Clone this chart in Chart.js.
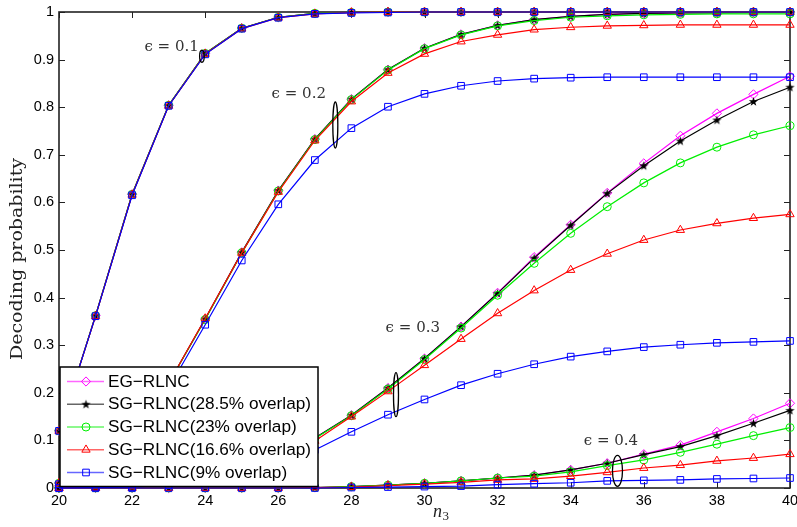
<!DOCTYPE html>
<html>
<head>
<meta charset="utf-8">
<script src="https://cdn.jsdelivr.net/npm/chart.js@4.4.1/dist/chart.umd.min.js"></script>
<style>
  html, body { margin: 0; padding: 0; background: #fff; }
  canvas { display: block; }
</style>
</head>
<body>
<canvas id="chart" width="797" height="527"></canvas>
<script>
// x values (n3)
const n3 = [20, 21, 22, 23, 24, 25, 26, 27, 28, 29, 30, 31, 32, 33, 34, 35, 36, 37, 38, 39, 40];

// epsilon = 0.1
const eg01    = [0.12, 0.362, 0.617, 0.804, 0.913, 0.966, 0.989, 0.997, 0.999, 1, 1, 1, 1, 1, 1, 1, 1, 1, 1, 1, 1];
const sg285_01 = [0.12, 0.362, 0.617, 0.804, 0.913, 0.966, 0.989, 0.997, 0.999, 1, 1, 1, 1, 1, 1, 1, 1, 1, 1, 1, 1];
const sg23_01  = [0.12, 0.362, 0.617, 0.804, 0.913, 0.966, 0.989, 0.997, 0.999, 1, 1, 1, 1, 1, 1, 1, 1, 1, 1, 1, 1];
const sg166_01 = [0.12, 0.361, 0.616, 0.803, 0.912, 0.965, 0.988, 0.996, 0.999, 1, 1, 1, 1, 1, 1, 1, 1, 1, 1, 1, 1];
const sg9_01   = [0.12, 0.361, 0.615, 0.803, 0.911, 0.965, 0.988, 0.996, 0.998, 0.999, 1, 1, 1, 1, 1, 1, 1, 1, 1, 1, 1];

// epsilon = 0.2
const eg02    = [0.01, 0.04, 0.11, 0.22, 0.355, 0.495, 0.625, 0.733, 0.817, 0.879, 0.924, 0.953, 0.972, 0.984, 0.991, 0.995, 0.997, 0.998, 0.999, 0.999, 0.999];
const sg285_02 = [0.01, 0.04, 0.11, 0.22, 0.355, 0.495, 0.625, 0.733, 0.817, 0.879, 0.924, 0.953, 0.972, 0.984, 0.991, 0.995, 0.997, 0.998, 0.998, 0.999, 0.999];
const sg23_02  = [0.01, 0.04, 0.11, 0.22, 0.354, 0.494, 0.624, 0.732, 0.816, 0.878, 0.923, 0.952, 0.971, 0.982, 0.989, 0.992, 0.994, 0.995, 0.996, 0.996, 0.996];
const sg166_02 = [0.01, 0.04, 0.11, 0.22, 0.356, 0.494, 0.622, 0.73, 0.812, 0.872, 0.912, 0.938, 0.952, 0.963, 0.968, 0.971, 0.972, 0.973, 0.973, 0.973, 0.973];
const sg9_02   = [0.008, 0.035, 0.1, 0.21, 0.343, 0.478, 0.596, 0.689, 0.756, 0.801, 0.828, 0.845, 0.855, 0.86, 0.862, 0.863, 0.863, 0.863, 0.863, 0.863, 0.863];

// epsilon = 0.3
const eg03    = [0, 0.001, 0.003, 0.008, 0.018, 0.036, 0.065, 0.105, 0.153, 0.21, 0.272, 0.339, 0.41, 0.485, 0.553, 0.62, 0.682, 0.74, 0.787, 0.827, 0.865];
const sg285_03 = [0, 0.001, 0.003, 0.008, 0.018, 0.036, 0.065, 0.105, 0.153, 0.21, 0.272, 0.339, 0.409, 0.483, 0.552, 0.619, 0.677, 0.729, 0.773, 0.812, 0.842];
const sg23_03  = [0, 0.001, 0.003, 0.008, 0.018, 0.036, 0.064, 0.104, 0.152, 0.208, 0.27, 0.336, 0.405, 0.472, 0.535, 0.591, 0.641, 0.683, 0.716, 0.742, 0.761];
const sg166_03 = [0, 0.001, 0.003, 0.008, 0.017, 0.034, 0.061, 0.099, 0.15, 0.203, 0.258, 0.313, 0.367, 0.415, 0.458, 0.492, 0.521, 0.542, 0.556, 0.567, 0.575];
const sg9_03   = [0, 0.001, 0.002, 0.006, 0.014, 0.027, 0.047, 0.08, 0.118, 0.154, 0.186, 0.216, 0.24, 0.26, 0.276, 0.287, 0.296, 0.301, 0.305, 0.307, 0.309];

// epsilon = 0.4
const eg04    = [0, 0, 0, 0, 0, 0, 0, 0.001, 0.003, 0.006, 0.01, 0.015, 0.021, 0.027, 0.038, 0.052, 0.071, 0.09, 0.118, 0.146, 0.178];
const sg285_04 = [0, 0, 0, 0, 0, 0, 0, 0.001, 0.003, 0.006, 0.01, 0.015, 0.021, 0.027, 0.038, 0.052, 0.07, 0.087, 0.11, 0.136, 0.163];
const sg23_04  = [0, 0, 0, 0, 0, 0, 0, 0.001, 0.003, 0.006, 0.01, 0.015, 0.021, 0.025, 0.034, 0.047, 0.059, 0.075, 0.092, 0.11, 0.127];
const sg166_04 = [0, 0, 0, 0, 0, 0, 0, 0.001, 0.002, 0.005, 0.008, 0.012, 0.017, 0.019, 0.025, 0.033, 0.042, 0.048, 0.057, 0.063, 0.071];
const sg9_04   = [0, 0, 0, 0, 0, 0, 0, 0, 0.001, 0.002, 0.003, 0.004, 0.007, 0.009, 0.011, 0.015, 0.016, 0.017, 0.019, 0.02, 0.021];

const yTicks = [0, 0.1, 0.2, 0.3, 0.4, 0.5, 0.6, 0.7, 0.8, 0.9, 1];
const xTicks = [20, 22, 24, 26, 28, 30, 32, 34, 36, 38, 40];

const schemeNames = ['EG\u2212RLNC', 'SG\u2212RLNC(28.5% overlap)', 'SG\u2212RLNC(23% overlap)',
                     'SG\u2212RLNC(16.6% overlap)', 'SG\u2212RLNC(9% overlap)'];
const groups = [
  [eg01, sg285_01, sg23_01, sg166_01, sg9_01],
  [eg02, sg285_02, sg23_02, sg166_02, sg9_02],
  [eg03, sg285_03, sg23_03, sg166_03, sg9_03],
  [eg04, sg285_04, sg23_04, sg166_04, sg9_04]
];

// annotations: label text, label position, ellipse position (data coords), ellipse radii (px)
const epsLabels = ['\u03f5 = 0.1', '\u03f5 = 0.2', '\u03f5 = 0.3', '\u03f5 = 0.4'];
const epsLabelPos = [[23.08, 0.927], [26.56, 0.827], [29.68, 0.3355], [35.1, 0.0994]];
const epsEllipsePos = [[23.91, 0.907], [27.56, 0.7626], [29.22, 0.196], [35.28, 0.036]];
const epsEllipseR = [[2.3, 6], [2.5, 23], [2.5, 22], [5, 15.5]];

// five-pointed star marker (MATLAB pentagram)
function makeStar() {
  const c = document.createElement('canvas');
  c.width = 11; c.height = 11;
  const g = c.getContext('2d');
  g.beginPath();
  for (let k = 0; k < 10; k++) {
    const r = k % 2 ? 1.9 : 4.8;
    const ang = -Math.PI / 2 + k * Math.PI / 5;
    g.lineTo(5.5 + r * Math.cos(ang), 5.8 + r * Math.sin(ang));
  }
  g.closePath();
  g.fillStyle = '#000';
  g.fill();
  return c;
}

const styles = [
  {color: '#ff00ff', pointStyle: 'rectRot', radius: 4.6},
  {color: '#000000', pointStyle: makeStar(), radius: 5},
  {color: '#00ee00', pointStyle: 'circle', radius: 4},
  {color: '#ff0000', pointStyle: 'triangle', radius: 4.8},
  {color: '#0000ff', pointStyle: 'rect', radius: 4.7}
];

const datasets = [];
groups.forEach(group => {
  group.forEach((vals, si) => {
    const st = styles[si];
    datasets.push({
      label: schemeNames[si],
      data: n3.map((x, i) => ({x: x, y: vals[i]})),
      borderColor: st.color,
      backgroundColor: 'transparent',
      borderWidth: 1.2,
      pointStyle: st.pointStyle,
      pointRadius: st.radius,
      pointBorderWidth: 1,
      pointBorderColor: st.color,
      pointBackgroundColor: 'transparent',
      tension: 0,
      clip: false,
      order: 4 - si
    });
  });
});

const boxPlugin = {
  id: 'box',
  beforeDatasetsDraw(chart) {
    const {ctx, chartArea: a, scales: {x, y}} = chart;
    ctx.save();
    ctx.strokeStyle = '#222';
    ctx.lineWidth = 1;
    ctx.beginPath();
    xTicks.forEach(t => {
      const px = Math.round(x.getPixelForValue(t)) + 0.5;
      ctx.moveTo(px, a.bottom); ctx.lineTo(px, a.bottom - 6);
      ctx.moveTo(px, a.top); ctx.lineTo(px, a.top + 6);
    });
    yTicks.forEach(t => {
      const py = Math.round(y.getPixelForValue(t)) + 0.5;
      ctx.moveTo(a.left, py); ctx.lineTo(a.left + 6, py);
      ctx.moveTo(a.right, py); ctx.lineTo(a.right - 6, py);
    });
    ctx.stroke();
    ctx.lineWidth = 1.6;
    ctx.strokeRect(a.left, a.top, a.right - a.left, a.bottom - a.top);
    ctx.restore();
  },
  afterDatasetsDraw(chart) {
    const {ctx, chartArea: a, scales: {x, y}} = chart;
    ctx.save();

    // epsilon labels and ellipses
    ctx.fillStyle = '#333';
    ctx.textAlign = 'center';
    ctx.textBaseline = 'middle';
    ctx.font = '15px "DejaVu Serif"';
    epsLabels.forEach((txt, i) => {
      ctx.fillText(txt, x.getPixelForValue(epsLabelPos[i][0]), y.getPixelForValue(epsLabelPos[i][1]));
    });
    ctx.strokeStyle = '#000';
    ctx.lineWidth = 1.3;
    epsEllipsePos.forEach((p, i) => {
      ctx.beginPath();
      ctx.ellipse(x.getPixelForValue(p[0]), y.getPixelForValue(p[1]), epsEllipseR[i][0], epsEllipseR[i][1], 0, 0, Math.PI * 2);
      ctx.stroke();
    });

    // legend box, bottom-left inside the axes
    const left = a.left + 1, bottom = a.bottom - 1.5;
    const w = 258, h = 119.5, top = bottom - h;
    ctx.fillStyle = '#fff';
    ctx.fillRect(left, top, w, h);
    ctx.strokeStyle = '#000';
    ctx.lineWidth = 1.5;
    ctx.strokeRect(left, top, w, h);
    ctx.font = '17.2px "Liberation Sans"';
    ctx.textAlign = 'left';
    ctx.textBaseline = 'middle';
    schemeNames.forEach((name, i) => {
      const st = styles[i];
      const cy = top + 14.5 + i * 22.75;
      ctx.save();
      ctx.globalAlpha = 0.6;
      ctx.strokeStyle = st.color;
      ctx.lineWidth = 1.3;
      ctx.beginPath();
      ctx.moveTo(left + 7, cy); ctx.lineTo(left + 44, cy);
      ctx.stroke();
      ctx.restore();
      ctx.strokeStyle = st.color;
      ctx.fillStyle = 'rgba(0,0,0,0)';
      ctx.lineWidth = 1;
      Chart.helpers.drawPoint(ctx, {pointStyle: st.pointStyle, radius: st.radius, rotation: 0, borderWidth: 1}, left + 26, cy);
      ctx.fillStyle = '#000';
      ctx.fillText(name, left + 48, cy + 0.5);
    });
    ctx.restore();
  },
  afterDraw(chart) {
    const {ctx, chartArea: a} = chart;
    ctx.save();
    ctx.fillStyle = '#222';
    // y title
    ctx.font = '17px "DejaVu Serif"';
    const title = 'Decoding probability';
    const tw = ctx.measureText(title).width;
    ctx.translate(22, (a.top + a.bottom) / 2 + 9);
    ctx.rotate(-Math.PI / 2);
    ctx.scale(202 / tw, 1);
    ctx.textAlign = 'center';
    ctx.textBaseline = 'alphabetic';
    ctx.fillText(title, 0, 0);
    ctx.restore();
    // x title n_3
    ctx.save();
    ctx.fillStyle = '#222';
    ctx.textBaseline = 'alphabetic';
    ctx.font = 'italic 18px "Liberation Serif"';
    ctx.textAlign = 'right';
    const cx = 442;
    ctx.fillText('n', cx, 517);
    ctx.font = '13px "Liberation Serif"';
    ctx.textAlign = 'left';
    ctx.fillText('3', cx + 0.5, 520);
    ctx.restore();
  }
};

const tickFont = {family: 'Liberation Sans', size: 14.5};

new Chart(document.getElementById('chart').getContext('2d'), {
  type: 'line',
  data: {datasets: datasets},
  options: {
    responsive: false,
    animation: false,
    devicePixelRatio: 1,
    layout: {padding: {top: 12, right: 7, left: 0, bottom: 0}},
    plugins: {
      legend: {display: false},
      tooltip: {enabled: false}
    },
    scales: {
      x: {
        type: 'linear',
        min: 20,
        max: 40,
        grid: {display: false, drawTicks: false},
        border: {display: false},
        ticks: {stepSize: 2, padding: 4, color: '#000', font: tickFont, maxRotation: 0},
        afterFit(s) { s.height = 39; s.paddingLeft = 0; s.paddingRight = 0; }
      },
      y: {
        min: 0,
        max: 1,
        grid: {display: false, drawTicks: false},
        border: {display: false},
        ticks: {
          stepSize: 0.1,
          padding: 5,
          color: '#000',
          font: tickFont,
          callback: v => String(Math.round(v * 10) / 10)
        },
        afterFit(s) { s.width = 59; s.paddingTop = 0; s.paddingBottom = 0; }
      }
    }
  },
  plugins: [boxPlugin]
});
</script>
</body>
</html>
